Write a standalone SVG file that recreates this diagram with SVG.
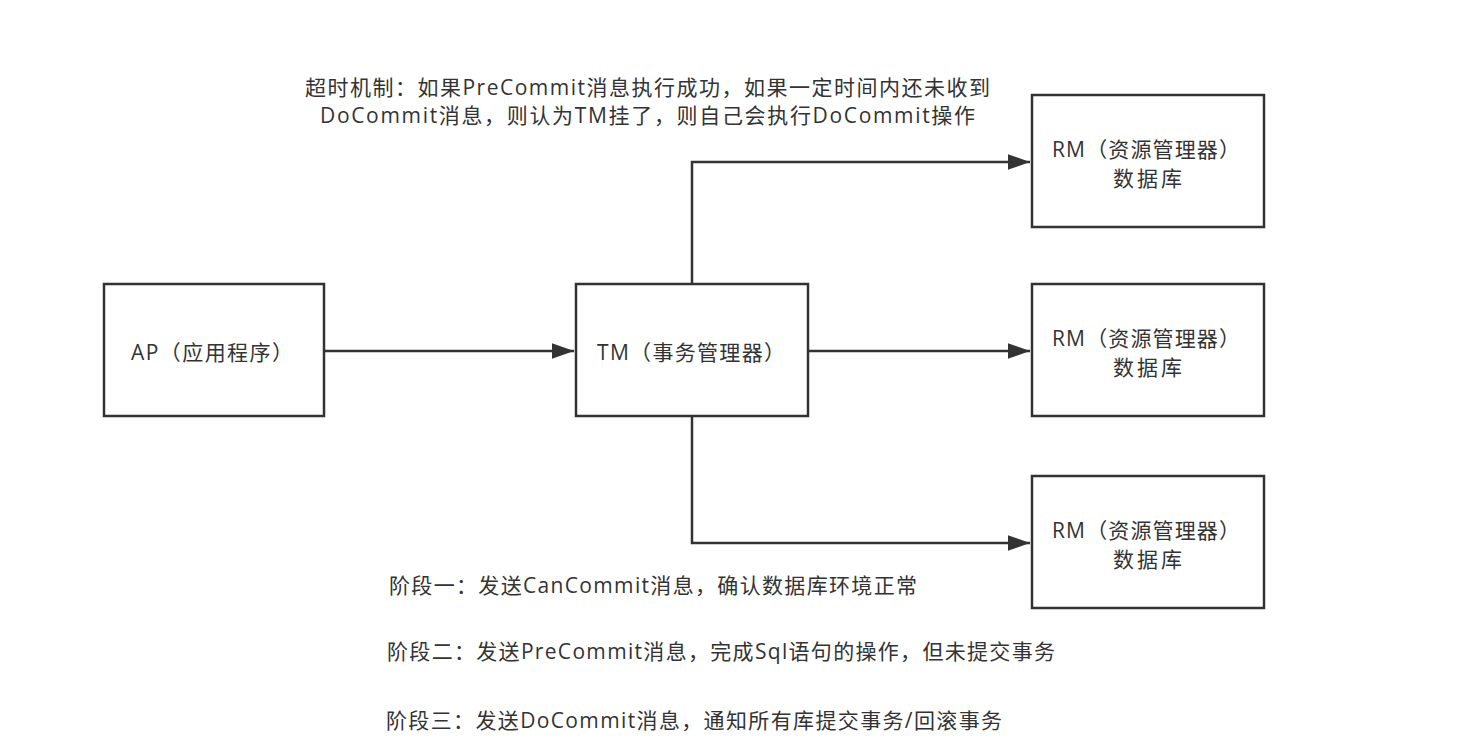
<svg xmlns="http://www.w3.org/2000/svg" width="1457" height="748" viewBox="0 0 1457 748">
<style>
.box{fill:#fff;stroke:#333;stroke-width:2.5}
.t{font-family:"Open Sans","Noto Sans CJK SC",sans-serif;font-size:21px;fill:#333}
.c{stroke:#333;stroke-width:2.5;fill:none}
</style>
<defs>
<marker id="a" viewBox="0 0 20 14" markerWidth="22" markerHeight="16" refX="20" refY="7" orient="auto" markerUnits="userSpaceOnUse"><path d="M0,0 L20,7 L0,14 Z" fill="#333"/></marker>
</defs>
<rect width="1457" height="748" fill="#fff"/>
<g id="connectors">
<path class="c" d="M324,351 H574" marker-end="url(#a)"/>
<path class="c" d="M808,351 H1030" marker-end="url(#a)"/>
<path class="c" d="M692,284 V162 H1030" marker-end="url(#a)"/>
<path class="c" d="M692,416 V543 H1030" marker-end="url(#a)"/>
</g>
<g id="ap"><rect class="box" x="104" y="284" width="220" height="132"/><text class="t" x="131" y="360" textLength="162" lengthAdjust="spacing">AP（应用程序）</text></g>
<g id="tm"><rect class="box" x="576" y="284" width="232" height="132"/><text class="t" x="597" y="360" textLength="188" lengthAdjust="spacing">TM（事务管理器）</text></g>
<g id="rm1"><rect class="box" x="1032" y="95" width="232" height="132"/><text class="t" x="1052" y="157" textLength="188" lengthAdjust="spacing">RM（资源管理器）</text><text class="t" x="1113" y="186" textLength="69" lengthAdjust="spacing">数据库</text></g>
<g id="rm2"><rect class="box" x="1032" y="284" width="232" height="132"/><text class="t" x="1052" y="346" textLength="188" lengthAdjust="spacing">RM（资源管理器）</text><text class="t" x="1113" y="375" textLength="69" lengthAdjust="spacing">数据库</text></g>
<g id="rm3"><rect class="box" x="1032" y="476" width="232" height="132"/><text class="t" x="1052" y="538" textLength="188" lengthAdjust="spacing">RM（资源管理器）</text><text class="t" x="1113" y="567" textLength="69" lengthAdjust="spacing">数据库</text></g>
<g id="notes">
<text class="t" x="305" y="95" textLength="685" lengthAdjust="spacing">超时机制：如果PreCommit消息执行成功，如果一定时间内还未收到</text>
<text class="t" x="320" y="123" textLength="655" lengthAdjust="spacing">DoCommit消息，则认为TM挂了，则自己会执行DoCommit操作</text>
<text class="t" x="389" y="593" textLength="528" lengthAdjust="spacing">阶段一：发送CanCommit消息，确认数据库环境正常</text>
<text class="t" x="387" y="659" textLength="668" lengthAdjust="spacing">阶段二：发送PreCommit消息，完成Sql语句的操作，但未提交事务</text>
<text class="t" x="386" y="728" textLength="616" lengthAdjust="spacing">阶段三：发送DoCommit消息，通知所有库提交事务/回滚事务</text>
</g>
</svg>
